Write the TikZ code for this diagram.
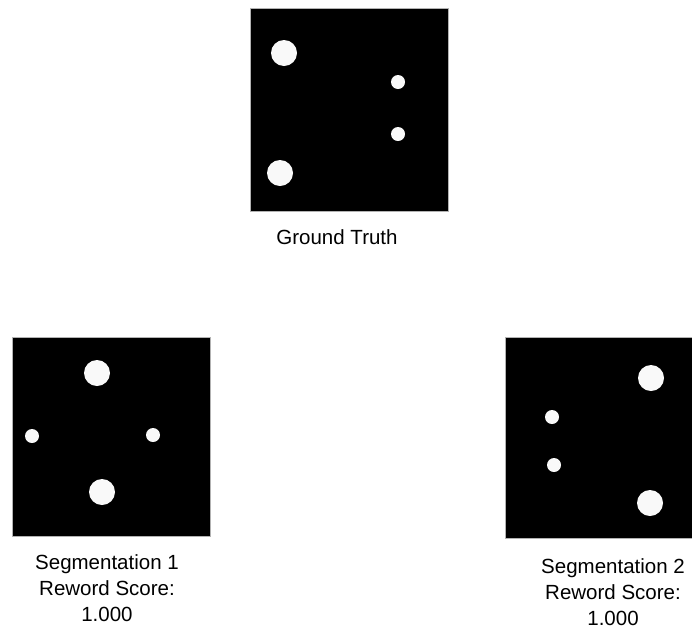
\documentclass[tikz,border=0pt]{standalone}
\usepackage{fontspec}
\setmainfont{Liberation Sans}
\begin{document}
\begin{tikzpicture}[x=1pt, y=-1pt,
    mask/.style={fill=black, draw=gray!60, line width=0.6pt},
    blob/.style={fill=gray!5},
    caption/.style={align=center, inner sep=0pt, font=\fontsize{20.5}{26}\selectfont}]

  \def\rbig{13}
  \def\rsmall{7}

  \useasboundingbox (0,0) rectangle (692,630);
  \clip (0,0) rectangle (692,630);

  % ---------------- ground truth ----------------
  \filldraw[mask] (250,8) rectangle (448,211);
  \fill[blob] (284,53) circle (\rbig);
  \fill[blob] (280,173) circle (\rbig);
  \fill[blob] (398,82) circle (\rsmall);
  \fill[blob] (398,134) circle (\rsmall);
  \node[caption] (gt) at (337,237) {Ground Truth};

  % ---------------- segmentation 1 ----------------
  \filldraw[mask] (12,337) rectangle (210,536);
  \fill[blob] (97,373) circle (\rbig);
  \fill[blob] (102,492) circle (\rbig);
  \fill[blob] (32,436) circle (\rsmall);
  \fill[blob] (153,435) circle (\rsmall);
  \node[caption] (segone) at (107,588) {Segmentation 1\\Reword Score:\\1.000};

  % ---------------- segmentation 2 (cut by the page edge) ----------------
  \filldraw[mask] (505,337) rectangle (703,538);
  \fill[blob] (651,378) circle (\rbig);
  \fill[blob] (650,503) circle (\rbig);
  \fill[blob] (552,417) circle (\rsmall);
  \fill[blob] (554,465) circle (\rsmall);
  \node[caption] (segtwo) at (613,592) {Segmentation 2\\Reword Score:\\1.000};

\end{tikzpicture}
\end{document}
